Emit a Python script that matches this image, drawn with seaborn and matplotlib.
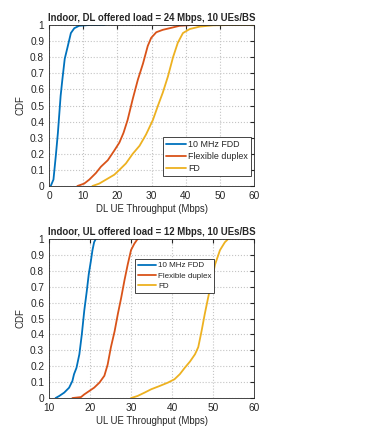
import numpy as np
import pandas as pd
import matplotlib
matplotlib.use("Agg")
import matplotlib.pyplot as plt
import seaborn as sns

# DL curves (throughput in Mbps, CDF)
dl_fdd_x = [0.5, 1.3, 2.0, 2.6, 3.4, 3.9, 4.6, 5.4, 6.4, 7.4, 8.8, 11.8, 16.2]
dl_fdd_y = [0.0, 0.04, 0.19, 0.33, 0.56, 0.66, 0.79, 0.86, 0.95, 0.98, 0.995, 1.0, 1.0]
dl_flex_x = [8.3, 10.3, 11.8, 13.7, 15.2, 17.2, 19.1, 20.6, 21.8, 23.0, 24.5, 26.0, 27.5,
             28.9, 29.9, 31.4, 33.3, 35.3, 38.2, 42.0, 47.0]
dl_flex_y = [0.0, 0.015, 0.04, 0.08, 0.12, 0.16, 0.22, 0.27, 0.33, 0.41, 0.54, 0.66, 0.76,
             0.87, 0.92, 0.955, 0.97, 0.98, 0.995, 1.0, 1.0]
dl_fd_x = [12.7, 14.7, 16.7, 19.1, 20.6, 22.5, 24.5, 26.5, 28.4, 30.4, 31.9, 33.3, 34.8,
           36.3, 37.7, 39.2, 41.2, 44.1, 48.0, 53.9, 60.0]
dl_fd_y = [0.0, 0.015, 0.04, 0.07, 0.10, 0.14, 0.20, 0.25, 0.32, 0.41, 0.50, 0.58, 0.68,
           0.80, 0.89, 0.95, 0.975, 0.99, 0.998, 1.0, 1.0]

# UL curves
ul_fdd_x = [11.6, 12.5, 13.7, 14.9, 15.7, 16.1, 16.7, 17.4, 18.0, 18.6, 19.2, 19.7, 20.2,
            20.6, 21.0, 21.4]
ul_fdd_y = [0.0, 0.013, 0.034, 0.065, 0.107, 0.15, 0.19, 0.275, 0.40, 0.55, 0.67, 0.78, 0.86,
            0.93, 0.98, 1.0]
ul_flex_x = [15.7, 17.8, 18.6, 19.8, 21.0, 22.3, 23.5, 24.3, 25.1, 26.0, 26.8, 27.6, 28.4,
             29.2, 30.0, 30.8, 31.6]
ul_flex_y = [0.0, 0.006, 0.023, 0.044, 0.065, 0.097, 0.14, 0.21, 0.32, 0.42, 0.53, 0.63, 0.74,
             0.84, 0.93, 0.97, 1.0]
ul_fd_x = [30.0, 31.6, 33.3, 34.9, 37.0, 39.0, 40.6, 41.9, 43.1, 44.4, 45.6, 46.4, 47.2,
           48.0, 48.8, 49.7, 50.5, 51.7, 52.9, 53.7]
ul_fd_y = [0.0, 0.013, 0.034, 0.055, 0.076, 0.097, 0.118, 0.15, 0.19, 0.23, 0.275, 0.32, 0.42,
           0.53, 0.63, 0.74, 0.84, 0.93, 0.98, 1.0]

labels = ["10 MHz FDD", "Flexible duplex", "FD"]
colors = ["#0072BD", "#D95319", "#EDB120"]

sns.set_style("white")
plt.rcParams['font.family'] = ['Liberation Sans', 'DejaVu Sans']

fig = plt.figure(figsize=(3.89, 4.28), dpi=100)
ax1 = fig.add_axes([0.126, 0.5654, 0.527, 0.3762])
ax2 = fig.add_axes([0.126, 0.070, 0.527, 0.3716])


def draw(ax, curves, xlim, xticks, title, xlabel, legend_box, legend_fs):
    for (x, y), lab, c in zip(curves, labels, colors):
        df = pd.DataFrame({"x": x, "y": y})
        sns.lineplot(data=df, x="x", y="y", ax=ax, color=c, lw=1.3, label=lab,
                     sort=False, estimator=None)
    ax.set_xlim(*xlim)
    ax.set_ylim(0, 1)
    ax.set_xticks(xticks)
    ax.set_yticks(np.arange(0, 1.01, 0.1))
    ax.set_yticklabels(["0", "0.1", "0.2", "0.3", "0.4", "0.5", "0.6", "0.7", "0.8", "0.9", "1"])
    ax.grid(True, linestyle=":", color="#c4c4c4", lw=0.8)
    ax.tick_params(direction="in", labelsize=7.3, length=3, top=True, right=True,
                   colors="#262626")
    ax.tick_params(axis="x", pad=3.4)
    ax.tick_params(axis="y", pad=3.5)
    for s in ax.spines.values():
        s.set_color("#262626")
        s.set_linewidth(0.6)
    ax.set_title(title, fontsize=6.9, fontweight="bold", pad=3)
    ax.set_xlabel(xlabel, fontsize=6.9, labelpad=2)
    ax.set_ylabel("CDF", fontsize=6.9, labelpad=3)
    leg = ax.legend(loc="lower left", bbox_to_anchor=legend_box, fontsize=legend_fs,
                    fancybox=False, framealpha=1, edgecolor="#262626",
                    handlelength=2.2, borderpad=0.35, labelspacing=0.35,
                    handletextpad=0.3, borderaxespad=0)
    leg.get_frame().set_linewidth(0.6)


draw(ax1, [(dl_fdd_x, dl_fdd_y), (dl_flex_x, dl_flex_y), (dl_fd_x, dl_fd_y)],
     (0, 60), range(0, 61, 10),
     "Indoor, DL offered load = 24 Mbps, 10 UEs/BS", "DL UE Throughput (Mbps)",
     (0.556, 0.062), 6.4)
draw(ax2, [(ul_fdd_x, ul_fdd_y), (ul_flex_x, ul_flex_y), (ul_fd_x, ul_fd_y)],
     (10, 60), range(10, 61, 10),
     "Indoor, UL offered load = 12 Mbps, 10 UEs/BS", "UL UE Throughput (Mbps)",
     (0.42, 0.66), 5.8)

fig.savefig("out.png", dpi=100)
